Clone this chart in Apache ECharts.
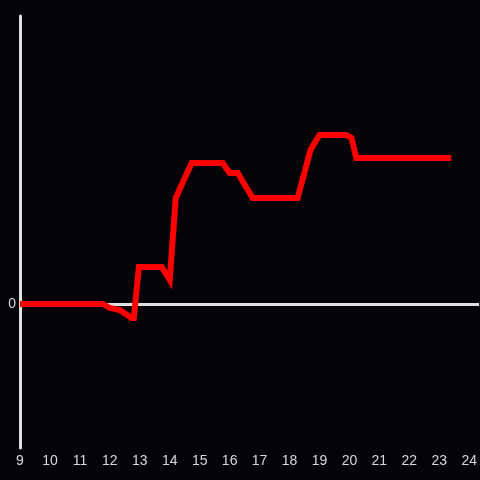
<!DOCTYPE html>
<html>
<head>
<meta charset="utf-8">
<script src="https://cdn.jsdelivr.net/npm/echarts@6/dist/echarts.min.js"></script>
<style>
html,body{margin:0;padding:0;background:#050307;}
#EchartDiv{width:480px;height:480px;}
</style>
</head>
<body>
<div id="EchartDiv"></div>
<script>
// 时间(小时) 与 数值
var arrHours  = [9, 11.77, 12.0, 12.33, 12.73, 12.8, 12.97, 13.73, 14.0, 14.2, 14.73, 15.77, 16.0, 16.27, 16.77, 18.27, 18.7, 19.0, 19.9, 20.07, 20.23, 23.4];
var arrValues = [0, 0, -0.04, -0.06, -0.14, -0.14, 0.37, 0.37, 0.24, 1.06, 1.41, 1.41, 1.31, 1.31, 1.06, 1.06, 1.54, 1.69, 1.69, 1.66, 1.46, 1.46];
var xTicks = [9, 10, 11, 12, 13, 14, 15, 16, 17, 18, 19, 20, 21, 22, 23, 24];

var myChart = echarts.init(document.getElementById('EchartDiv'));
var data = [];
for (var i=0;i<arrHours.length;i++){
	data.push([arrHours[i], arrValues[i]]);
}
var option = {
	backgroundColor: '#050307',
	animation: false,
	grid: {
		left: 20,
		right: 0,
		top: 16,
		bottom: 32
	},
	xAxis: {
		type: 'value',
		min: 9,
		max: 24.33,
		interval: 1,
		axisLine: {show: false, onZero: false},
		axisTick: {show: false},
		splitLine: {show: false},
		axisLabel: {
			color: '#d8d8d8',
			fontSize: 14,
			fontFamily: 'Liberation Sans',
			margin: 6,
			showMaxLabel: false,
			formatter: function(v){ return xTicks.indexOf(v) >= 0 ? String(v) : ''; }
		}
	},
	yAxis: {
		type: 'value',
		min: -1.44,
		max: 2.88,
		interval: 1.44,
		axisLine: {show: true, onZero: false, lineStyle: {color: '#e0e0e0', width: 3}},
		axisTick: {show: false},
		splitLine: {show: false},
		axisLabel: {
			color: '#d8d8d8',
			fontSize: 14,
			fontFamily: 'Liberation Sans',
			margin: 4,
			formatter: function(v){ return Math.abs(v) < 1e-9 ? '0' : ''; }
		}
	},
	series: [
		{
			type: 'line',
			data: data,
			symbol: 'none',
			z: 3,
			lineStyle: {color: '#ff0000', width: 6, join: 'miter'},
			markLine: {
				silent: true,
				symbol: 'none',
				label: {show: false},
				z: 1,
				lineStyle: {color: '#e0e0e0', width: 3, type: 'solid'},
				data: [{yAxis: 0}]
			}
		}
	]
};
myChart.setOption(option);
</script>
</body>
</html>
